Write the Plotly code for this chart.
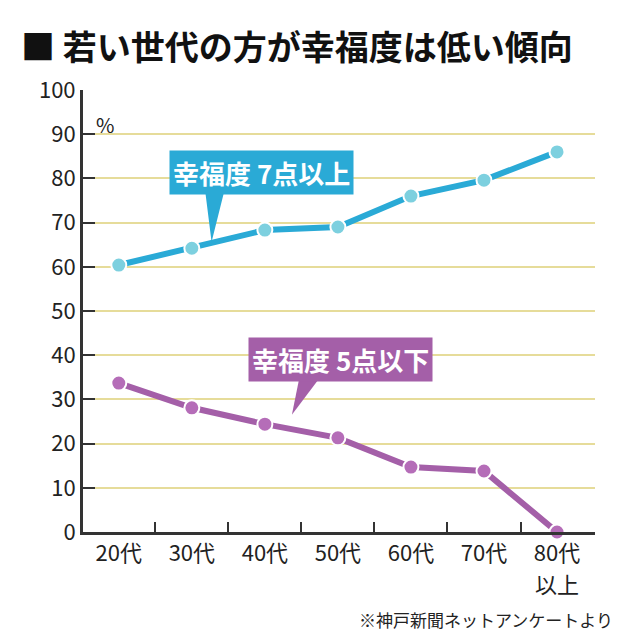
import plotly.graph_objects as go

ages = ["20代", "30代", "40代", "50代", "60代", "70代", "80代"]
high = [60.4, 64.2, 68.3, 69.0, 76.0, 79.6, 86.0]   # 幸福度7点以上
low = [33.7, 28.1, 24.4, 21.3, 14.7, 13.8, 0.0]     # 幸福度5点以下
yticks = list(range(0, 101, 10))

CYAN = "#2aaad6"
PURPLE = "#a45fa8"
xs = list(range(len(ages)))

fig = go.Figure()
fig.add_trace(go.Scatter(x=xs, y=high, mode="lines+markers", cliponaxis=False,
                         line=dict(color=CYAN, width=6),
                         marker=dict(size=15, color="#7dd0df", line=dict(color="white", width=2))))
fig.add_trace(go.Scatter(x=xs, y=low, mode="lines+markers", cliponaxis=False,
                         line=dict(color=PURPLE, width=6),
                         marker=dict(size=15, color="#b56db8", line=dict(color="white", width=2))))
# dummy trace for the between-category tick marks
fig.add_trace(go.Scatter(x=[0.5], y=[None], xaxis="x2", showlegend=False))

font = "Noto Sans CJK JP"
fig.update_layout(
    width=640, height=640, showlegend=False,
    paper_bgcolor="white", plot_bgcolor="white",
    margin=dict(l=75, r=53, t=82, b=116),
    font=dict(family=font, color="#222"),
    xaxis=dict(range=[-0.49, 6.52], tickvals=xs, ticktext=ages, ticks="",
               tickfont=dict(size=22), showgrid=False, zeroline=False,
               showline=True, linecolor="#333", linewidth=3),
    xaxis2=dict(overlaying="x", range=[-0.49, 6.52], tickvals=[0.5, 1.5, 2.5, 3.5, 4.5, 5.5],
                ticks="inside", ticklen=10, tickwidth=2, tickcolor="#333",
                showticklabels=False, showgrid=False, zeroline=False, anchor="y"),
    yaxis=dict(range=[0, 100], tickvals=yticks, ticks="inside", ticklen=12, tickwidth=2,
               tickcolor="#333", tickfont=dict(size=22), showgrid=True,
               gridcolor="#e6dc9a", gridwidth=2, zeroline=False,
               showline=True, linecolor="#333", linewidth=3),
)

# callout pointers
fig.add_shape(type="path", path="M 1.18 77.5 L 1.45 77.5 L 1.27 65.6 Z",
              fillcolor=CYAN, line=dict(width=0), layer="above")
fig.add_shape(type="path", path="M 2.48 35.5 L 2.78 35.5 L 2.37 26.5 Z",
              fillcolor=PURPLE, line=dict(width=0), layer="above")

fig.add_annotation(x=1.95, y=81.4, text="<b>幸福度 7点以上</b>", showarrow=False,
                   bgcolor=CYAN, font=dict(size=26, color="white"), borderpad=3)
fig.add_annotation(x=3.03, y=39.1, text="<b>幸福度 5点以下</b>", showarrow=False,
                   bgcolor=PURPLE, font=dict(size=26, color="white"), borderpad=3)

# second line of the last category label
fig.add_annotation(x=6, yref="paper", y=-0.075, yanchor="top", text="以上",
                   showarrow=False, font=dict(size=22))
fig.add_annotation(xref="paper", yref="paper", x=0.022, y=0.96, xanchor="left",
                   text="%", showarrow=False, font=dict(size=20))
fig.add_annotation(xref="paper", yref="paper", x=-0.125, y=1.10, xanchor="left", yanchor="middle",
                   text="<b>■ 若い世代の方が幸福度は低い傾向</b>", showarrow=False,
                   font=dict(size=34, color="#111"))
fig.add_annotation(xref="paper", yref="paper", x=1.04, y=-0.165, xanchor="right", yanchor="top",
                   text="※神戸新聞ネットアンケートより", showarrow=False,
                   font=dict(size=17))

fig.write_html("out.html")
